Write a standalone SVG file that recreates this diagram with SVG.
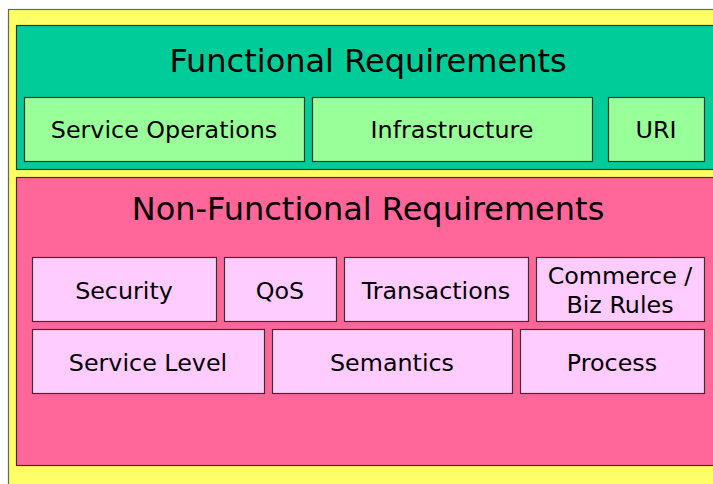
<svg xmlns="http://www.w3.org/2000/svg" width="713" height="484" viewBox="0 0 713 484">
<style>
text{font-family:"DejaVu Sans",Verdana,sans-serif;fill:#000;text-anchor:middle}
.t{font-size:32px}
.l{font-size:23.8px}
.fr{fill:#99FF99;stroke:#333;stroke-width:1.2}
.nf{fill:#FFCCFF;stroke:#333;stroke-width:1.2}
</style>
<rect width="713" height="484" fill="#fff"/>
<rect id="outer" x="8.5" y="9.5" width="710" height="480" fill="#FFFF66" stroke="#666" stroke-width="1.2"/>
<g id="functional">
<rect x="16.5" y="25.5" width="700" height="144" fill="#00CC99" stroke="#333" stroke-width="1.2"/>
<text class="t" x="368" y="72">Functional Requirements</text>
</g>
<g id="service-operations"><rect class="fr" x="24.5" y="97.5" width="280" height="64"/><text class="l" x="164" y="138">Service Operations</text></g>
<g id="infrastructure"><rect class="fr" x="312.5" y="97.5" width="280" height="64"/><text class="l" x="452" y="138">Infrastructure</text></g>
<g id="uri"><rect class="fr" x="608.5" y="97.5" width="96" height="64"/><text class="l" x="656" y="138">URI</text></g>
<g id="non-functional">
<rect x="16.5" y="177.5" width="700" height="288" fill="#FF6699" stroke="#333" stroke-width="1.2"/>
<text class="t" x="368" y="220">Non-Functional Requirements</text>
</g>
<g id="security"><rect class="nf" x="32.5" y="257.5" width="184" height="64"/><text class="l" x="124" y="299">Security</text></g>
<g id="qos"><rect class="nf" x="224.5" y="257.5" width="112" height="64"/><text class="l" x="280" y="299">QoS</text></g>
<g id="transactions"><rect class="nf" x="344.5" y="257.5" width="184" height="64"/><text class="l" x="436" y="299">Transactions</text></g>
<g id="commerce"><rect class="nf" x="536.5" y="257.5" width="168" height="64"/><text class="l" x="620" y="284">Commerce /</text><text class="l" x="620" y="313">Biz Rules</text></g>
<g id="service-level"><rect class="nf" x="32.5" y="329.5" width="232" height="64"/><text class="l" x="148" y="371">Service Level</text></g>
<g id="semantics"><rect class="nf" x="272.5" y="329.5" width="240" height="64"/><text class="l" x="392" y="371">Semantics</text></g>
<g id="process"><rect class="nf" x="520.5" y="329.5" width="184" height="64"/><text class="l" x="612" y="371">Process</text></g>
<g id="connectors"></g>
</svg>
